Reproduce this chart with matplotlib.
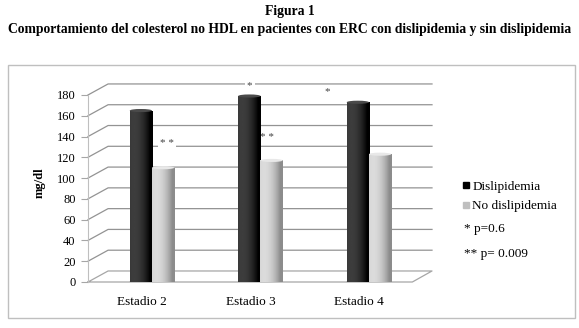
import numpy as np
import matplotlib.pyplot as plt
from matplotlib.patches import Rectangle, Ellipse
import matplotlib.transforms as mtransforms
from matplotlib.lines import Line2D

# ============================== DATA ==============================
estadios = ['Estadio 2', 'Estadio 3', 'Estadio 4']
dislip = [165, 179, 173]
no_dislip = [110, 117, 123]
yticks = list(range(0, 181, 20))

# ============================== PLOT STUFF =============================
plt.rcParams['font.family'] = ['Liberation Serif', 'DejaVu Serif']

W, H = 579, 328
fig = plt.figure(figsize=(W/100, H/100), dpi=100)

def fx(px):
    return px / W

def fy(py):
    return 1 - py / H

# outer chart frame
fig.patches.append(Rectangle((fx(8), fy(318)), fx(575)-fx(8), fy(65)-fy(318),
                             transform=fig.transFigure, fill=False,
                             edgecolor='#bfbfbf', lw=1))

fig.text(0.5, fy(11), 'Figura 1', ha='center', va='center', fontsize=9.8, fontweight='bold')
fig.text(0.5, fy(29), 'Comportamiento del colesterol no HDL en pacientes con ERC con dislipidemia y sin dislipidemia',
         ha='center', va='center', fontsize=9.8, fontweight='bold')

ax = fig.add_axes([fx(88), fy(282), fx(432)-fx(88), 199.5/H])
xl = (-0.59, 2.581)
yl = (0, 192)
dz = 10.6      # depth offset of back wall (data units)
xback = -0.405
xfront_r = 2.40

grid_c = '#939393'
for y in yticks:
    if y == 0:
        continue
    ax.plot([xl[0], xback, xl[1]], [y, y+dz, y+dz], color=grid_c, lw=0.9, zorder=1, clip_on=False)
# floor
ax.plot([xl[0], xback, xl[1], xfront_r, xl[0]], [0, dz, dz, 0, 0], color='#a6a6a6', lw=0.9,
        zorder=1, clip_on=False)

# cylinder-like bars
bw = 0.205
x = np.arange(len(estadios))
grad = np.linspace(0, 1, 64)
shade = 1 - 0.9*(2*grad - 0.35)**2 / 1.8225
shade = np.clip(shade, 0, 1)

def cyl(xc, h, base, light):
    img = np.array([[base + (light - base)*s for s in shade]])
    r = Rectangle((xc - bw/2, 0), bw, h, facecolor='none', edgecolor='none')
    ax.add_patch(r)
    im = ax.imshow(img, extent=(xc - bw/2, xc + bw/2, 0, h), aspect='auto', cmap='gray',
                   vmin=0, vmax=1, zorder=3, interpolation='bilinear')
    im.set_clip_path(r)
    ax.add_patch(Ellipse((xc, h), bw, 3.0, facecolor=str(min(light+0.05, 1)), edgecolor='none', zorder=4))
    ax.add_patch(Ellipse((xc, 0), bw, 3.0, facecolor=str(base), edgecolor='none', zorder=2.9))

for i in range(len(estadios)):
    cyl(x[i] - bw/2, dislip[i], 0.0, 0.24)
    cyl(x[i] + bw/2, no_dislip[i], 0.55, 0.86)

# significance marks
star_kw = dict(ha='center', va='center', fontsize=8, color='#444444', zorder=2,
               bbox=dict(facecolor='white', edgecolor='none', pad=1.5))
ax.text(0.14, 133, '* *', **star_kw)
ax.text(1.06, 139, '* *', **star_kw)
ax.text(0.90, 189, '*', **star_kw)
ax.text(1.62, 183, '*', **star_kw)

ax.set_xlim(xl)
ax.set_ylim(yl)
ax.set_yticks(yticks)
ax.set_xticks(x)
ax.set_xticklabels(estadios, fontsize=9.5)
ax.tick_params(axis='x', length=0, pad=10)
ax.tick_params(axis='y', length=5, width=0.8, color='#a6a6a6', pad=4, labelsize=9)
off = mtransforms.ScaledTranslation(-10/100, 0, fig.dpi_scale_trans)
for lbl in ax.get_xticklabels():
    lbl.set_transform(lbl.get_transform() + off)
for s in ['top', 'right', 'bottom']:
    ax.spines[s].set_visible(False)
ax.spines['left'].set_color('#bfbfbf')
ax.spines['left'].set_bounds(0, 180)
ax.set_ylabel('mg/dl', fontsize=9, fontweight='bold', labelpad=8)

# legend
handles = [Line2D([], [], marker='s', ls='none', color='black', markersize=5),
           Line2D([], [], marker='s', ls='none', color='#bfbfbf', markersize=5)]
fig.legend(handles, ['Dislipidemia', 'No dislipidemia'], loc='upper left',
           bbox_to_anchor=(fx(455), fy(174)), frameon=False, fontsize=9.5,
           handlelength=0.6, handletextpad=0.2, labelspacing=0.55, borderpad=0)
fig.text(fx(464), fy(229), '* p=0.6', ha='left', va='center', fontsize=9.5)
fig.text(fx(464), fy(254), '** p= 0.009', ha='left', va='center', fontsize=9.5)

plt.savefig('out.png', dpi=100)
